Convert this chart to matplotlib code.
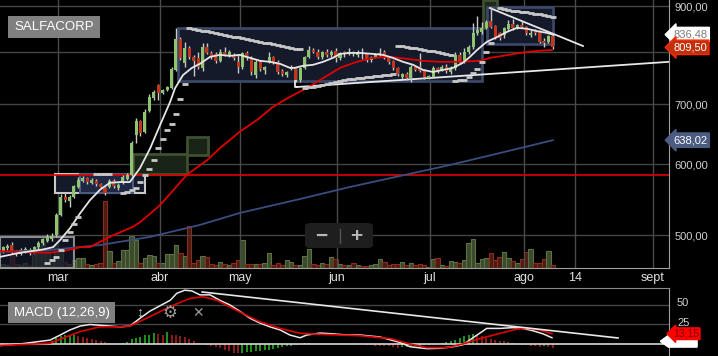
import matplotlib.pyplot as plt
from matplotlib.patches import Rectangle, FancyBboxPatch, Polygon
from matplotlib.transforms import blended_transform_factory
from matplotlib.ticker import NullLocator

plt.rcParams['font.family'] = ['Liberation Sans', 'DejaVu Sans']

# daily candles
opens = [480, 484, 488, 479, 477, 480, 482, 480, 485, 490,
         493, 495, 500, 527, 552, 546, 552, 566, 575, 579,
         572, 575, 570, 564, 566, 575, 564, 572, 578, 584,
         647, 670, 652, 688, 711, 735, 720, 726, 729, 764,
         827, 778, 808, 790, 788, 768, 810, 798, 796, 782,
         800, 792, 794, 780, 770, 798, 788, 754, 780, 764,
         780, 790, 780, 762, 754, 766, 768, 745, 768, 790,
         804, 800, 790, 800, 794, 802, 788, 800, 796, 800,
         794, 798, 796, 784, 790, 794, 800, 790, 782, 768,
         750, 756, 749, 770, 770, 764, 749, 750, 768, 764,
         770, 760, 768, 794, 780, 800, 810, 840, 842, 851,
         866, 855, 840, 836, 849, 860, 851, 857, 853, 836,
         844, 842, 823, 821, 833]
closes = [485, 486, 479, 477, 482, 483, 478, 485, 490, 495,
          498, 499, 527, 552, 547, 552, 567, 576, 579, 573,
          576, 570, 566, 557, 575, 567, 569, 581, 584, 633,
          670, 650, 686, 713, 722, 720, 726, 731, 766, 827,
          788, 808, 790, 782, 770, 810, 798, 790, 782, 800,
          794, 800, 788, 770, 798, 788, 760, 780, 766, 770,
          790, 780, 760, 756, 760, 770, 745, 768, 790, 804,
          800, 790, 800, 794, 800, 788, 798, 796, 800, 796,
          800, 796, 784, 790, 796, 798, 790, 780, 768, 756,
          756, 749, 770, 764, 762, 750, 752, 768, 762, 770,
          762, 768, 794, 780, 800, 810, 840, 846, 851, 864,
          853, 831, 829, 851, 860, 851, 857, 853, 840, 840,
          840, 821, 819, 833, 809.5]
highs = [487, 489, 491, 481, 484, 485, 484, 487, 493, 497,
         501, 503, 529, 556, 557, 555, 569, 580, 582, 581,
         579, 578, 572, 566, 577, 578, 571, 583, 587, 636,
         676, 672, 692, 718, 725, 737, 728, 733, 770, 851,
         831, 820, 812, 794, 800, 818, 819, 802, 800, 806,
         810, 804, 798, 794, 800, 802, 792, 784, 784, 772,
         800, 792, 784, 766, 762, 774, 770, 770, 792, 812,
         808, 806, 802, 806, 803, 808, 800, 802, 808, 802,
         803, 808, 798, 792, 798, 808, 804, 792, 784, 770,
         758, 760, 774, 772, 798, 766, 754, 772, 770, 774,
         776, 772, 800, 800, 808, 814, 862, 878, 864, 868,
         898, 858, 842, 853, 868, 870, 860, 866, 856, 846,
         848, 846, 829, 836, 840]
lows = [478, 482, 476, 474, 475, 478, 475, 478, 483, 488,
        491, 493, 498, 525, 544, 537, 550, 564, 573, 570,
        570, 568, 564, 555, 564, 565, 562, 570, 576, 582,
        633, 645, 650, 686, 708, 708, 718, 724, 727, 762,
        784, 770, 786, 752, 766, 762, 796, 786, 778, 780,
        792, 790, 784, 758, 766, 784, 754, 749, 762, 756,
        778, 776, 756, 752, 750, 764, 741, 741, 766, 788,
        798, 786, 786, 790, 790, 780, 784, 790, 794, 792,
        790, 786, 780, 780, 788, 792, 786, 776, 764, 752,
        746, 744, 740, 762, 760, 746, 746, 748, 758, 762,
        758, 756, 764, 776, 778, 796, 806, 836, 838, 848,
        850, 826, 824, 830, 845, 846, 848, 850, 836, 832,
        836, 818, 810, 818, 806]
volumes = [4, 3, 12, 4, 3, 5, 3, 14, 22, 25,
           20, 8, 23, 18, 6, 4, 8, 10, 10, 4,
           3, 4, 5, 67, 17, 5, 7, 18, 18, 32,
           28, 5, 10, 13, 12, 5, 5, 14, 14, 23,
           15, 12, 42, 5, 8, 12, 11, 4, 3, 6,
           4, 3, 5, 8, 28, 4, 4, 4, 4, 5,
           15, 3, 5, 3, 8, 6, 3, 3, 12, 19,
           4, 3, 5, 4, 11, 9, 4, 3, 3, 5,
           3, 2, 2, 3, 4, 9, 6, 3, 4, 4,
           6, 3, 5, 3, 4, 3, 1, 9, 10, 3,
           2, 7, 6, 5, 8, 25, 29, 5, 9, 10,
           15, 8, 11, 16, 10, 7, 5, 9, 16, 19,
           5, 5, 9, 17, 3]
N = None
sar = [N, N, N, N, N, N, N, N, N, N,
       465.6, 469.3, 472.9, 481.5, 493.9, 504.2, 514.6, 523.9, N, N,
       N, 585, 585, 585, 585, N, N, 557.2, 558.7, 561.5,
       564.5, 573.2, 583.6, 592.6, 606.4, 625.4, 639.9, 654.9, 665.0, 682.3,
       709.0, 736.9, 851.0, 848.8, 846.6, 844.4, 843.3, 842.3, 840.1, 838.0,
       835.8, 833.7, 831.6, 830.5, 829.5, 827.4, 825.3, 823.2, 821.1, 819.0,
       817.9, 816.9, 814.8, 812.7, 810.7, 808.6, 806.5, 805.5, 729.4, 730.4,
       731.3, 733.2, 735.0, 736.9, 738.8, 740.7, 742.6, 744.5, 745.5, 746.5,
       747.4, 748.4, 749.3, 750.3, 751.3, 752.2, 753.2, 754.2, 755.2, 812.7,
       811.7, 810.7, 808.6, 807.6, 806.5, 804.5, 802.4, 801.4, 800.4, 798.3,
       796.3, 794.3, 742.6, 743.6, 744.5, 750.3, 758.1, 766.1, 779.8, 800.4,
       819.0, N, 895.4, 893.1, 890.9, 889.7, 888.6, 886.3, 885.2, 884.1,
       881.8, 880.7, 879.6, 877.3, 875.1]

# moving averages (candle index, price)
ma_fast_x = [-0.7, 3.8, 9.0, 11.3, 12.9, 15.1, 17.4, 19.6, 21.9, 24.1, 26.4, 28.6, 30.9, 33.2,
             35.4, 37.7, 38.8, 40.6, 42.6, 44.4, 46.7, 48.9, 51.2, 53.4, 55.7, 58.0, 60.2,
             62.5, 64.7, 65.8, 67.6, 69.9, 72.2, 74.4, 76.0, 78.2, 80.5, 83.4, 85.7, 87.9,
             90.2, 92.5, 94.7, 97.0, 99.2, 101.5, 103.7, 105.3, 106.9, 109.1, 111.4, 113.6,
             115.9, 118.2, 120.4, 122.7, 124.0]
ma_fast = [473, 478, 482, 485, 494, 509, 529, 547, 562, 572, 573, 573, 594, 625,
           663, 704, 729, 754, 768, 776, 790, 794, 792, 794, 788, 782, 780,
           776, 768, 768, 772, 774, 780, 788, 796, 798, 798, 796, 794, 788,
           780, 774, 764, 760, 764, 768, 778, 790, 804, 821, 831, 842,
           851, 849, 844, 840, 836.48]
ma_mid_x = [-0.7, 3.8, 10.6, 14.4, 17.4, 19.6, 24.1, 29.3, 30.9, 33.1, 35.4, 41.5, 46.0,
            48.9, 53.4, 57.3, 60.9, 64.7, 68.5, 72.2, 76.0, 79.8, 83.4, 87.3, 91.1, 94.7,
            98.5, 102.4, 107.6, 109.8, 112.7, 116.6, 120.4, 123.8]
ma_mid = [480, 479, 478, 481, 485, 485, 498, 511, 517, 528, 540, 584, 606,
          625, 652, 672, 695, 713, 729, 748, 768, 780, 788, 790, 786, 782,
          780, 780, 782, 788, 792, 798, 802, 804]
ma_slow_x = [-0.7, 10.6, 21.9, 33.1, 44.4, 53.4, 67.0, 78.2, 89.5, 100.8, 112.1, 124.0]
ma_slow = [479, 481.5, 487.6, 497.8, 513.4, 529.4, 548.7, 565.8, 582.0, 598.7, 617.4, 638.02]

# MACD (12,26,9)
macd_x = [-0.7, 3.8, 10.6, 12.9, 15.1, 17.4, 19.6, 21.9, 24.1, 26.4, 28.6, 30.9, 33.1, 35.4,
          37.7, 39.2, 41.0, 42.6, 44.4, 46.7, 48.9, 51.2, 53.4, 55.7, 57.9, 60.2, 62.5,
          64.7, 67.0, 68.5, 71.5, 74.4, 77.6, 80.5, 85.0, 89.5, 91.8, 95.6, 98.5, 101.5,
          103.7, 106.0, 109.1, 112.1, 115.0, 117.2, 119.5, 121.8, 123.8]
macd = [-2, 0, 5, 11.5, 18, 23, 25, 24, 23, 22, 23, 33, 42, 49,
        56, 65, 69, 68, 63, 63, 56, 50, 42, 33, 27, 22, 18,
        11.5, 8, 11.5, 14, 13, 11.5, 11.5, 9, 2, -3.5, -6, -5.5, -3.5,
        -1, 8, 20, 20, 21, 20, 17, 13, 8]
signal_x = [-0.7, 10.6, 17.4, 21.9, 26.4, 28.6, 33.1, 37.7, 42.2, 45.1, 48.3, 53.4, 57.9,
            62.5, 67.0, 71.5, 76.0, 80.5, 87.3, 91.8, 95.6, 100.1, 103.7, 107.6, 112.1,
            115.9, 118.2, 121.1, 123.8]
signal = [-2, 1, 16, 22, 22, 23, 35, 48, 58.5, 60.6, 56, 41, 28.5,
          20, 13.7, 12.4, 11.5, 10.6, 7, 0, -4.7, -4.7, 0, 7, 13.7,
          19, 20, 18, 13.15]
hist = [1.5, 1.2, 0.6, 0, 0, 0, 0, 0, 0, 0, 0.5,
        4, 8, 10, 11.5, 11.5, 11.6,
        10, 9, 8, 6.5, 5, 3.5, 2,
        1, 0.5, 0.5, 1, 2,
        6, 8, 9.5, 11, 12, 13.5, 13, 11.5, 15, 12,
        11.5, 10, 9, 6.5, 4, 1.5, 0.5,
        -1, -2.5, -4, -5, -7.5, -9, -11.5, -11.6, -11, -10.5, -10, -9.5, -9, -8,
        -7.5, -6.5, -5, -4, -3, -2, -1,
        0.5, 1, 1, 0.5, 0.5, 0.3, 0.2, 0.2, 0.3, 0.2, 0.1, 0, -0.2, -0.3, -0.5,
        -1, -1.5, -2, -2.5, -3, -3.2, -4, -4.5,
        -4, -3.5, -3, -2.5, -2, -1.5, -1, -0.5,
        0, 1, 2, 3.8, 5.1, 7.7, 10.3, 11.5, 12.8, 11.5,
        10, 7.7, 6.4, 5.1, 3.8, 3.7, 2.6, 1.3, 0,
        -1, -1.5, -2, -3, -3.5, -3, -4, -4.5]

month_pos = [12.4, 35.4, 53.4, 75.3, 96.3, 117.5, 129.0, 146.6]
month_lbl = ['mar', 'abr', 'may', 'jun', 'jul', 'ago', '14', 'sept']
price_ticks = [500, 600, 700, 800, 900]
price_lbl = ['500,00', '600,00', '700,00', '', '900,00']  # 800 sits under the last-price tag
macd_ticks = [25, 50]

idx = list(range(len(closes)))
up = [c >= o for o, c in zip(opens, closes)]

W, H = 718, 356
fig = plt.figure(figsize=(W / 100, H / 100), dpi=100, facecolor='black')


def fx(p):
    return p / W


def fy(p):
    return 1 - p / H


XL = (-0.68, 150.2)
main_rect = [0, fy(268), fx(669), 268 / H]
axv = fig.add_axes(main_rect)
ax = fig.add_axes(main_rect)
axm = fig.add_axes([0, 0, fx(669), (356 - 288) / H])

# volume underneath
axv.bar(idx, volumes, width=1.0,
        color=['#3a4a2b' if u else '#4a1c12' for u in up],
        edgecolor=['#5e7044' if u else '#8c2c1a' for u in up], linewidth=0.8)
axv.set_xlim(*XL)
axv.set_ylim(0, 268)
axv.axis('off')

ax.set_yscale('log')
ax.set_xlim(*XL)
ax.set_ylim(459.7, 914)
ax.patch.set_visible(False)

for v in price_ticks:
    ax.axhline(v, color='#444444', lw=1, zorder=0.5)
for m in month_pos:
    ax.axvline(m, color='#4a4a4a', lw=1, zorder=0.5)


def box(x0, x1, p0, p1, fc, ec, lw=2, alpha=1.0, z=1):
    ax.add_patch(Rectangle((x0, p0), x1 - x0, p1 - p0, fc=fc, ec=ec, lw=lw,
                           alpha=alpha, zorder=z))


# drawing tools on the chart
box(-0.68, 16.0, 459.7, 498, '#151a2c', '#b4b4b4', lw=1.5, alpha=0.75)
box(11.7, 32.0, 557.2, 585, '#151a2a', '#c8c8c8', lw=1.5)
box(17.4, 29.3, 557.2, 585, '#1f2742', '#4a5a80', lw=1.5, z=1.1)
box(29.3, 41.5, 585, 615.8, '#1a2416', '#3d5030')
box(41.5, 46.2, 614.2, 643.3, '#1a2416', '#3d5030')
box(39.5, 108.0, 742.6, 851, '#151a2a', '#3a4766')
box(108.2, 111.4, 851, 914, '#1d2a18', '#3d5030')
box(109.1, 124.0, 816.4, 897.7, '#151a2a', '#3a4766', z=1.1)

ax.axhline(584, color='#e00000', lw=1.2, zorder=1.5)
ax.plot([66.3, 150.2], [731.2, 780], color='#e8e8e8', lw=1.3, zorder=2.5)
ax.plot([65.8, 65.8, 66.3], [745, 731.2, 731.2], color='#e8e8e8', lw=1.3, zorder=2.5)
ax.plot([109.8, 130.8], [895.4, 812.3], color='#e8e8e8', lw=1.3, zorder=2.5)

# candles
ax.vlines(idx, lows, highs, color='#c8c8c8', lw=1, zorder=3)
ax.bar(idx, [max(abs(c - o), 0.8) for o, c in zip(opens, closes)],
       bottom=[min(o, c) for o, c in zip(opens, closes)], width=0.68,
       color=['#8ec46e' if u else '#c4361c' for u in up], zorder=3.2)

ax.plot(ma_slow_x, ma_slow, color='#3b4d7e', lw=1.3, zorder=4)
ax.plot(ma_mid_x, ma_mid, color='#e00000', lw=1.3, zorder=4)
ax.plot(ma_fast_x, ma_fast, color='#e6e6e6', lw=1.3, zorder=4.1)
sx = [i for i, s in zip(idx, sar) if s is not None]
sv = [s for s in sar if s is not None]
ax.plot(sx, sv, ls='none', marker='_', ms=5, mew=2, color='#c8c8c8', zorder=4.2)

ax.yaxis.tick_right()
ax.set_yticks(price_ticks)
ax.set_yticklabels(price_lbl)
ax.yaxis.set_minor_locator(NullLocator())
ax.tick_params(axis='y', length=0, pad=4, colors='#d0d0d0', labelsize=8)
ax.set_xticks(month_pos)
ax.set_xticklabels(month_lbl)
ax.tick_params(axis='x', length=0, pad=3, colors='#e0e0e0', labelsize=9)
for s in ['left', 'top']:
    ax.spines[s].set_visible(False)
ax.spines['bottom'].set_color('#a0a0a0')
ax.spines['right'].set_color('#a0a0a0')


def tag(axis, value, text, fc, tc, ec, pad=0.2, size=8):
    tr = blended_transform_factory(axis.transAxes, axis.transData)
    axis.text(1.006, value, text, transform=tr, ha='left', va='center', fontsize=size,
              color=tc, zorder=20, clip_on=False,
              bbox=dict(boxstyle=f'larrow,pad={pad}', fc=fc, ec=ec, lw=1))


tag(ax, 836.48, '836,48', '#ffffff', '#7a7a7a', '#ffffff')
tag(ax, 809.5, '809,50', '#c0300c', '#ffffff', '#ff2a00')
tag(ax, 638.02, '638,02', '#4b5c80', '#ffffff', '#4b5c80')

# MACD panel
axm.set_facecolor('black')
axm.set_xlim(*XL)
axm.set_ylim(-15.4, 71.8)
for v in macd_ticks:
    axm.axhline(v, color='#444444', lw=1, zorder=0.5)
hcol = []
prev = 0
for h in hist:
    hcol.append('#1f8f1f' if h >= prev else '#8b1a1a')
    prev = h
axm.bar(idx, hist, width=0.45, color=hcol, zorder=1)
axm.axhline(0, color='#d8d8d8', lw=1.2, zorder=1.5)
axm.plot(macd_x, macd, color='#e8e8e8', lw=1.1, zorder=2)
axm.plot(signal_x, signal, color='#e00000', lw=1.2, zorder=2.1)
axm.plot([44.9, 138.7], [66.7, 7.7], color='#e8e8e8', lw=1.2, zorder=2.2)
axm.set_xticks([])
axm.set_yticks([])
for s in ['left', 'bottom']:
    axm.spines[s].set_visible(False)
axm.spines['top'].set_color('#8a8a8a')
axm.spines['right'].set_color('#a0a0a0')
trm = blended_transform_factory(axm.transAxes, axm.transData)
# right-hand scale labels, nudged up a touch so the signal tag does not cover them
for v in macd_ticks:
    axm.text(1.012, v + 2.5, str(v), transform=trm, ha='left', va='center',
             fontsize=8, color='#d0d0d0', clip_on=False)

# MACD value tag (white), mostly hidden behind the signal tag
axm.add_patch(Polygon([(0.987, 3.5), (0.999, 11.0), (1.042, 11.0), (1.042, -4.0), (0.999, -4.0)],
                      closed=True, transform=trm, fc='#ffffff', ec='#ffffff', lw=1,
                      clip_on=False, zorder=19))
tag(axm, 13.15, '13,15', '#ff0000', '#7a0000', '#ff0000', pad=0.08, size=7.5)

# labels / widgets
fig.add_artist(Rectangle((fx(8), fy(38)), fx(92), 22 / H, transform=fig.transFigure,
                         fc='#808080', ec='none'))
fig.text(fx(54), fy(27.5), 'SALFACORP', color='white', fontsize=9.5, ha='center', va='center')
fig.add_artist(Rectangle((fx(8), fy(323)), fx(107), 21 / H, transform=fig.transFigure,
                         fc='#808080', ec='none'))
fig.text(fx(61.5), fy(313), 'MACD (12,26,9)', color='white', fontsize=9.5, ha='center', va='center')
fig.text(fx(140), fy(313), '↕', color='#c0c0c0', fontsize=10, ha='center', va='center')
fig.text(fx(170), fy(313), '⚙', color='#9a9a9a', fontsize=12, ha='center', va='center')
fig.text(fx(198), fy(313), '✕', color='#9a9a9a', fontsize=10, ha='center', va='center')

fig.add_artist(FancyBboxPatch((fx(305), fy(248)), fx(68), 25 / H,
                              boxstyle='round,pad=0,rounding_size=0.008',
                              transform=fig.transFigure, fc='#1e1e1e', ec='none'))
fig.add_artist(plt.Line2D([fx(340), fx(340)], [fy(229), fy(243)], transform=fig.transFigure,
                          color='#555555', lw=1))
fig.text(fx(321), fy(236), '−', color='#b8b8b8', fontsize=15, fontweight='bold',
         ha='center', va='center')
fig.text(fx(356), fy(236), '+', color='#b8b8b8', fontsize=15, fontweight='bold',
         ha='center', va='center')

fig.savefig('out.png', dpi=100, facecolor='black')
